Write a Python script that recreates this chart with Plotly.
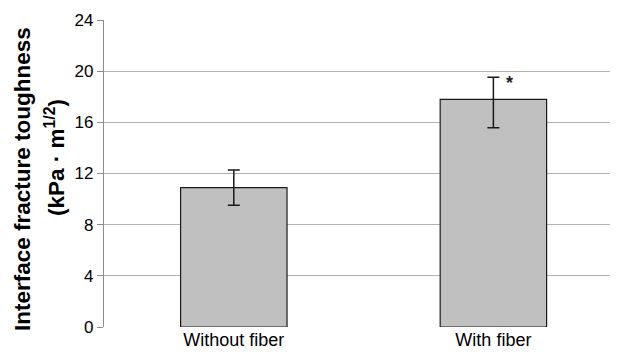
import plotly.graph_objects as go

categories = ["Without fiber", "With fiber"]
values = [10.9, 17.8]
err_plus = [1.38, 1.72]
err_minus = [1.38, 2.22]
y_ticks = [0, 4, 8, 12, 16, 20, 24]
title_line1 = "Interface fracture toughness"
title_line2 = "(kPa · m<sup>1/2</sup>)"
sig_mark = "*"

FONT = "Liberation Sans, Arial, sans-serif"

# page body has an 8px margin; the figure is offset accordingly
OFF = 8
W, H = 618 - OFF, 360 - OFF
L, T, B = 104 - OFF, 20 - OFF, 33
PW, PH = W - L, H - T - B

fig = go.Figure()
fig.add_trace(go.Bar(
    x=categories, y=values, width=0.41,
    marker=dict(color="#c0c0c0", line=dict(color="#1a1a1a", width=1.2)),
    error_y=dict(type="data", symmetric=False, array=err_plus, arrayminus=err_minus,
                 color="#1a1a1a", thickness=1.5, width=6),
))

fig.update_layout(
    width=W, height=H,
    margin=dict(l=L, r=0, t=T, b=B),
    paper_bgcolor="white", plot_bgcolor="white",
    showlegend=False,
    font=dict(family=FONT, color="#000000"),
    xaxis=dict(range=[-0.5, 1.48], showgrid=False, showline=False, ticks="",
               tickfont=dict(size=18, family=FONT, color="#000"), zeroline=False),
    yaxis=dict(range=[0, 24], tickvals=y_ticks, showgrid=True, gridcolor="#b3b3b3",
               gridwidth=1.3, showline=True, linecolor="#8c8c8c", linewidth=1.3,
               ticks="outside", ticklen=6, tickcolor="#8c8c8c", tickwidth=1.3,
               tickfont=dict(size=17, family=FONT, color="#000"), zeroline=False),
)

def px_x(x):
    return (x - OFF - L) / PW

def px_y(y):
    return (H - B - (y - OFF)) / PH

fig.add_annotation(text="<b>" + title_line1 + "</b>", textangle=-90, xref="paper", yref="paper",
                   x=px_x(22), y=px_y(179), xanchor="center", yanchor="middle",
                   showarrow=False, font=dict(size=22.5, family=FONT, color="#000"))
fig.add_annotation(text="<b>" + title_line2 + "</b>", textangle=-90, xref="paper", yref="paper",
                   x=px_x(55), y=px_y(158), xanchor="center", yanchor="middle",
                   showarrow=False, font=dict(size=22.5, family=FONT, color="#000"))
fig.add_annotation(text="<b>" + sig_mark + "</b>", x=categories[1], y=values[1] + err_plus[1],
                   xshift=16, yshift=-6, xanchor="center", yanchor="middle", showarrow=False,
                   font=dict(size=18, family=FONT, color="#222"))

fig.write_html("out.html")
